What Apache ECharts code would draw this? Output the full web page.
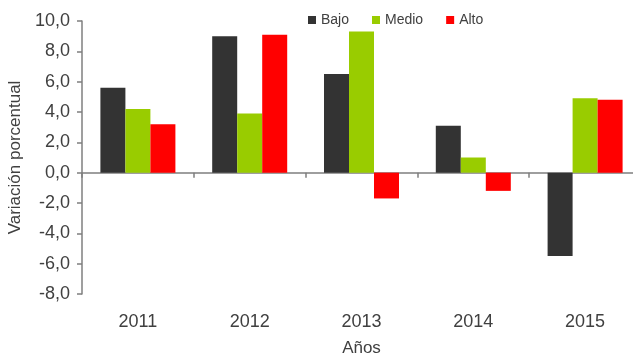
<!DOCTYPE html>
<html>
<head>
<meta charset="utf-8">
<script src="https://cdn.jsdelivr.net/npm/echarts@6/dist/echarts.min.js"></script>
<style>
  html, body { margin: 0; padding: 0; background: #ffffff; }
  #chart { width: 633px; height: 353px; }
</style>
</head>
<body>
<div id="chart"></div>
<script>
// Annual percentage change by level
const years = ['2011', '2012', '2013', '2014', '2015'];
const bajo  = [5.6, 9.0, 6.5, 3.1, -5.5];
const medio = [4.2, 3.9, 9.3, 1.0, 4.9];
const alto  = [3.2, 9.1, -1.7, -1.2, 4.8];
const seriesNames = ['Bajo', 'Medio', 'Alto'];

const textColor = '#404040';
const axisColor = '#7f7f7f';
const font = 'Liberation Sans, Arial, sans-serif';

const chart = echarts.init(document.getElementById('chart'), null, { renderer: 'canvas' });

chart.setOption({
  animation: false,
  textStyle: { fontFamily: font },
  legend: {
    data: seriesNames,
    left: 303,
    top: 8,
    icon: 'rect',
    itemWidth: 8,
    itemHeight: 8,
    itemGap: 23,
    textStyle: { color: textColor, fontSize: 14, fontFamily: font }
  },
  grid: {
    left: 82, right: -8, top: 21, bottom: 59,
    containLabel: false,
    outerBoundsMode: 'none'
  },
  xAxis: [
    {
      // year labels and axis title along the bottom of the plot
      type: 'category',
      data: years,
      position: 'bottom',
      axisLine: { show: false, onZero: false },
      axisTick: { show: false },
      axisLabel: { color: textColor, fontSize: 18, margin: 19, fontFamily: font },
      name: 'Años',
      nameLocation: 'middle',
      nameGap: 46,
      nameTextStyle: { color: textColor, fontSize: 17, fontFamily: font }
    },
    {
      // zero baseline with category ticks
      type: 'category',
      data: years,
      position: 'bottom',
      axisLine: { show: true, onZero: true, lineStyle: { color: axisColor, width: 1.5 } },
      axisTick: { show: true, length: 5, lineStyle: { color: axisColor, width: 1.5 } },
      axisLabel: { show: false }
    }
  ],
  yAxis: {
    type: 'value',
    min: -8,
    max: 10,
    interval: 2,
    splitLine: { show: false },
    axisLine: { show: true, lineStyle: { color: axisColor, width: 1.5 } },
    axisTick: { show: true, length: 5, lineStyle: { color: axisColor, width: 1.5 } },
    axisLabel: {
      color: textColor,
      fontSize: 18,
      margin: 12,
      hideOverlap: false,
      showMinLabel: true,
      showMaxLabel: true,
      fontFamily: font,
      formatter: v => v.toFixed(1).replace('.', ',')
    },
    name: 'Variación porcentual',
    nameLocation: 'middle',
    nameGap: 56,
    nameRotate: 90,
    nameTextStyle: { color: textColor, fontSize: 17, fontFamily: font }
  },
  series: [
    { name: seriesNames[0], type: 'bar', data: bajo,  barWidth: 25, barGap: '0%', itemStyle: { color: '#333333' } },
    { name: seriesNames[1], type: 'bar', data: medio, barWidth: 25, barGap: '0%', itemStyle: { color: '#99cc00' } },
    { name: seriesNames[2], type: 'bar', data: alto,  barWidth: 25, barGap: '0%', itemStyle: { color: '#ff0000' } }
  ]
});
</script>
</body>
</html>
